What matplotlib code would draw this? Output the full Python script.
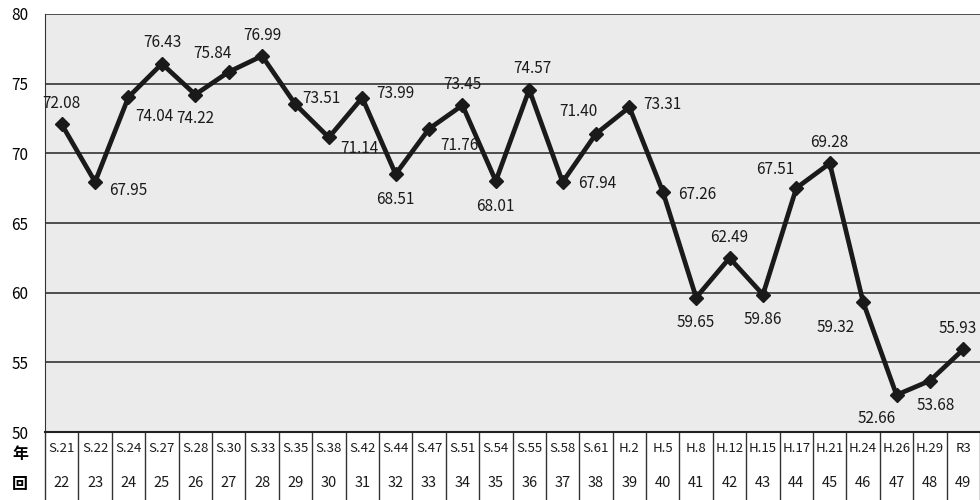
import numpy as np
import matplotlib.pyplot as plt
from matplotlib.transforms import blended_transform_factory

plt.rcParams['font.family'] = ['Noto Sans CJK JP', 'DejaVu Sans']

# Data
years = ['S.21', 'S.22', 'S.24', 'S.27', 'S.28', 'S.30', 'S.33', 'S.35', 'S.38', 'S.42',
         'S.44', 'S.47', 'S.51', 'S.54', 'S.55', 'S.58', 'S.61', 'H.2', 'H.5', 'H.8',
         'H.12', 'H.15', 'H.17', 'H.21', 'H.24', 'H.26', 'H.29', 'R3']
rounds = list(range(22, 50))
rates = [72.08, 67.95, 74.04, 76.43, 74.22, 75.84, 76.99, 73.51, 71.14, 73.99,
         68.51, 71.76, 73.45, 68.01, 74.57, 67.94, 71.40, 73.31, 67.26, 59.65,
         62.49, 59.86, 67.51, 69.28, 59.32, 52.66, 53.68, 55.93]

# label offsets in points (dx, dy)
offsets = [(0, 15), (24, -6), (19, -14), (0, 15), (0, -17), (-12, 13), (0, 15), (19, 4),
           (22, -8), (24, 3), (0, -18), (22, -12), (0, 15), (0, -18), (2, 15), (25, -1),
           (-13, 16), (24, 2), (25, -2), (0, -18), (0, 15), (0, -18), (-15, 13), (0, 15),
           (-20, -18), (-14, -17), (4, -18), (-4, 15)]

x = np.arange(len(rates))

fig = plt.figure(figsize=(9.8, 5), dpi=100)
ax = fig.add_axes([45 / 980, 68 / 500, 935 / 980, 418 / 500])
ax.set_facecolor('#ebebeb')

ax.plot(x, rates, color='#1a1a1a', linewidth=3.4, marker='D', markersize=7.5,
        markerfacecolor='#1a1a1a', markeredgecolor='#1a1a1a', zorder=3)

for i, v in enumerate(rates):
    ax.annotate(f'{v:.2f}', (x[i], v), xytext=offsets[i], textcoords='offset points',
                ha='center', va='center', fontsize=11, color='#1a1a1a')

ax.set_xlim(-0.5, len(rates) - 0.5)
ax.set_ylim(50, 80)
ax.set_yticks([50, 55, 60, 65, 70, 75, 80])
ax.yaxis.grid(True, color='#333333', linewidth=1.2)
ax.set_axisbelow(True)
ax.set_xticks([])
ax.tick_params(axis='y', length=0, labelsize=11, pad=12)
for s in ['top', 'right']:
    ax.spines[s].set_visible(False)
ax.spines['left'].set_color('#333333')
ax.spines['bottom'].set_color('#222222')
ax.spines['bottom'].set_linewidth(1.5)

# table below the axes
tr = blended_transform_factory(ax.transData, fig.transFigure)
y_top = 68 / 500
y_mid = 34 / 500
for b in np.arange(-0.5, len(rates), 1.0):
    ax.plot([b, b], [y_top, 0], transform=tr, color='#333333', linewidth=1,
            clip_on=False)
for i in range(len(rates)):
    ax.text(x[i], (y_top + y_mid) / 2, years[i], transform=tr, ha='center', va='center',
            fontsize=9.5, color='#1a1a1a')
    ax.text(x[i], y_mid / 2, str(rounds[i]), transform=tr, ha='center', va='center',
            fontsize=10.5, color='#1a1a1a')
fig.text(20 / 980, 46 / 500, '年', ha='center', va='center', fontsize=11.5,
         fontweight='bold')
fig.text(20 / 980, 16 / 500, '回', ha='center', va='center', fontsize=11.5,
         fontweight='bold')

plt.savefig('out.png', dpi=100, facecolor='white')
